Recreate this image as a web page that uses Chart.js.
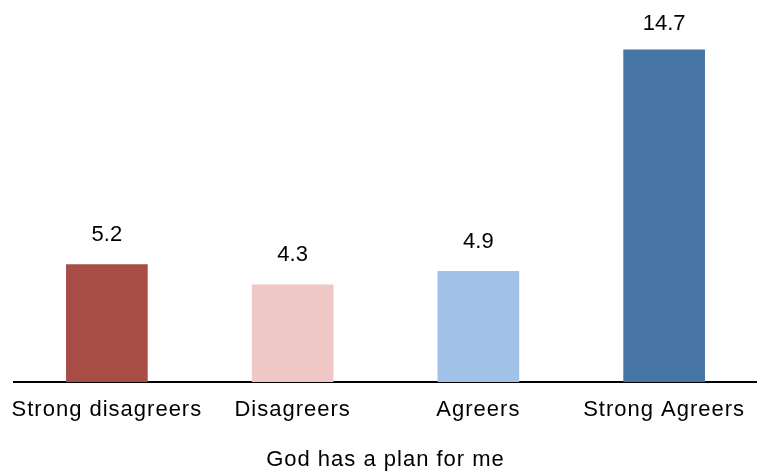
<!DOCTYPE html>
<html>
<head>
<meta charset="utf-8">
<script src="https://cdn.jsdelivr.net/npm/chart.js@4"></script>
<style>
  html, body { margin: 0; padding: 0; background: #fff; }
  #wrap { width: 757px; height: 472px; }
</style>
</head>
<body>
<div id="wrap"><canvas id="planChart"></canvas></div>
<script>
// responses to "God has a plan for me"
const groups = ['Strong disagreers', 'Disagreers', 'Agreers', 'Strong Agreers'];
const scores = [5.2, 4.3, 4.9, 14.7];
const barColors = ['#A84C46', '#EEC7C6', '#A1C2E6', '#4674A4'];

const FONT = '"Liberation Sans", Arial, sans-serif';

// the source font runs a little wider than Arial, so space out the axis text
const spacing = {
  id: 'spacing',
  beforeLayout(chart) { chart.ctx.letterSpacing = '1px'; },
  beforeDraw(chart) { chart.ctx.letterSpacing = '1px'; }
};

// value printed above each bar
const valueLabels = {
  id: 'valueLabels',
  afterDatasetsDraw(chart) {
    const ctx = chart.ctx;
    const meta = chart.getDatasetMeta(0);
    ctx.save();
    ctx.letterSpacing = '0px';
    ctx.font = '22px ' + FONT;
    ctx.fillStyle = '#000';
    ctx.textAlign = 'center';
    ctx.textBaseline = 'alphabetic';
    meta.data.forEach((bar, i) => {
      // keep the tallest label inside the canvas
      const y = Math.max(bar.y - 23.5, 29.5);
      ctx.fillText(scores[i].toFixed(1), bar.x, y);
    });
    ctx.restore();
  }
};

new Chart(document.getElementById('planChart'), {
  type: 'bar',
  data: {
    labels: groups,
    datasets: [{
      data: scores,
      backgroundColor: barColors,
      borderWidth: 0,
      barThickness: 81
    }]
  },
  options: {
    responsive: true,
    maintainAspectRatio: false,
    animation: false,
    layout: { padding: { left: 14, right: 0, top: 0, bottom: 1 } },
    plugins: {
      legend: { display: false },
      tooltip: { enabled: false },
      title: { display: false }
    },
    scales: {
      x: {
        grid: { display: false, drawTicks: false },
        border: { display: true, color: '#000', width: 2 },
        ticks: {
          color: '#000',
          padding: 17,
          autoSkip: false,
          maxRotation: 0,
          font: { family: FONT, size: 22, lineHeight: 1 }
        },
        title: {
          display: true,
          text: 'God has a plan for me',
          color: '#000',
          padding: { top: 11, bottom: 0 },
          font: { family: FONT, size: 22, lineHeight: 1 }
        },
        // long outer labels may hang past the plot edges
        afterFit(scale) {
          scale.paddingLeft = 0;
          scale.paddingRight = 0;
        }
      },
      y: {
        display: false,
        min: 0,
        max: 16.9
      }
    }
  },
  plugins: [spacing, valueLabels]
});
</script>
</body>
</html>
